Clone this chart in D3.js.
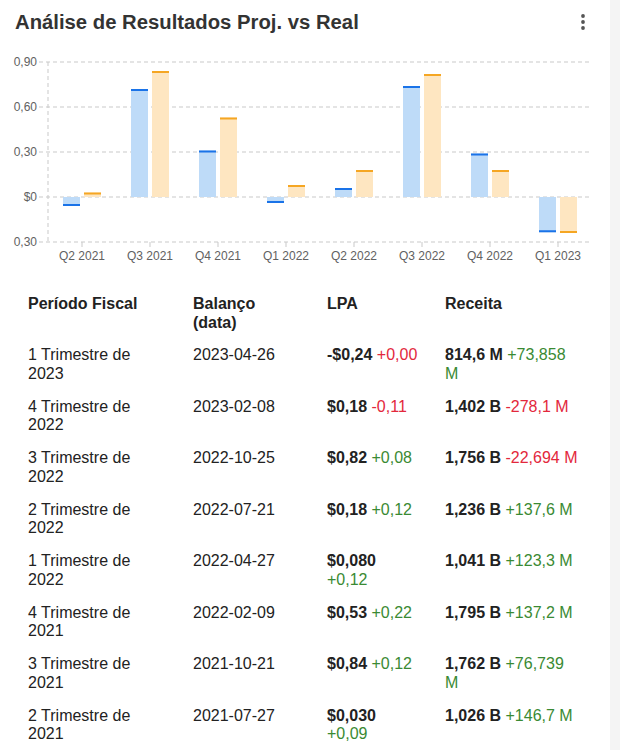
<!DOCTYPE html>
<html><head><meta charset="utf-8">
<script src="https://cdn.jsdelivr.net/npm/d3@7"></script>
<style>
body{margin:0;background:#fff;}
svg{display:block;font-family:"Liberation Sans",Arial,sans-serif;}
</style>
</head><body><svg id="c" width="620" height="750"></svg>
<script>
// ---- chart data ----
const quarters = ["Q2 2021","Q3 2021","Q4 2021","Q1 2022","Q2 2022","Q3 2022","Q4 2022","Q1 2023"];
const projected = [-0.06, 0.72, 0.31, -0.04, 0.06, 0.74, 0.29, -0.235];
const actual    = [0.03, 0.84, 0.53, 0.08, 0.18, 0.82, 0.18, -0.24];
const yTicks = [-0.3, 0, 0.3, 0.6, 0.9];
const yTickLabels = ["0,30", "$0", "0,30", "0,60", "0,90"];

// ---- table data ----
const headers = ["Período Fiscal", "Balanço (data)", "LPA", "Receita"];
const periods = ["1 Trimestre de 2023","4 Trimestre de 2022","3 Trimestre de 2022","2 Trimestre de 2022",
                 "1 Trimestre de 2022","4 Trimestre de 2021","3 Trimestre de 2021","2 Trimestre de 2021"];
const dates = ["2023-04-26","2023-02-08","2022-10-25","2022-07-21","2022-04-27","2022-02-09","2021-10-21","2021-07-27"];
const eps = ["-$0,24","$0,18","$0,82","$0,18","$0,080","$0,53","$0,84","$0,030"];
const epsSurprise = ["+0,00","-0,11","+0,08","+0,12","+0,12","+0,22","+0,12","+0,09"];
const epsBeat = [false,false,true,true,true,true,true,true];
const revenue = ["814,6 M","1,402 B","1,756 B","1,236 B","1,041 B","1,795 B","1,762 B","1,026 B"];
const revSurprise = ["+73,858 M","-278,1 M","-22,694 M","+137,6 M","+123,3 M","+137,2 M","+76,739 M","+146,7 M"];
const revBeat = [true,false,false,true,true,true,true,true];

const svg = d3.select("#c");
svg.append("rect").attr("x",0).attr("y",0).attr("width",620).attr("height",750).attr("fill","#fff");
svg.append("rect").attr("x",610).attr("y",0).attr("width",10).attr("height",750).attr("fill","#f4f4f4");

// title
svg.append("text").attr("x",15).attr("y",29).attr("font-size",20.3).attr("font-weight","bold")
  .attr("fill","#333").text("Análise de Resultados Proj. vs Real");
// kebab
svg.selectAll("circle.k").data([16,22,28]).join("circle").attr("class","k")
  .attr("cx",583).attr("cy",d=>d).attr("r",1.9).attr("fill","#555");

// scales
const x = d3.scaleBand().domain(quarters).range([48,592]);
const xs = d3.scaleBand().domain(["p","a"]).range([15,53]).paddingInner(4/21);
const y = d3.scaleLinear().domain([-0.3,0.9]).range([242,62]);
const grid = "#c9c9c9";

// gridlines
const gg = svg.append("g");
gg.selectAll("line").data(yTicks).join("line")
  .attr("x1",39).attr("x2",592).attr("y1",d=>y(d)).attr("y2",d=>y(d))
  .attr("stroke",grid).attr("stroke-width",1).attr("stroke-dasharray","4,3");
gg.append("line").attr("x1",48).attr("x2",48).attr("y1",y(0.9)).attr("y2",y(-0.3))
  .attr("stroke",grid).attr("stroke-dasharray","4,3");

// y labels
svg.selectAll("text.yl").data(yTicks).join("text").attr("class","yl")
  .attr("x",37).attr("y",d=>y(d)+4).attr("text-anchor","end").attr("font-size",12)
  .attr("fill","#616161").text((d,i)=>yTickLabels[i]);

// x axis
const xa = svg.append("g").attr("transform","translate(0,242)")
  .call(d3.axisBottom(x).tickSize(5).tickPadding(4).tickSizeOuter(0));
xa.select(".domain").remove();
xa.selectAll(".tick line").attr("stroke",grid);
xa.selectAll(".tick text").attr("font-size",12).attr("fill","#616161")
  .attr("font-family","'Liberation Sans',Arial,sans-serif");

// bars
const series = [
  {key:"p", vals:projected, fill:"#bedbf8", line:"#1a73e8"},
  {key:"a", vals:actual, fill:"#fee6c1", line:"#f5a623"}
];
series.forEach(s=>{
  const g = svg.append("g");
  quarters.forEach((q,i)=>{
    const v = s.vals[i];
    const x0 = x(q)+xs(s.key), w = xs.bandwidth();
    const yTop = Math.min(y(v),y(0)), h = Math.abs(y(v)-y(0));
    g.append("rect").attr("x",x0).attr("y",yTop).attr("width",w).attr("height",h).attr("fill",s.fill);
    g.append("rect").attr("x",x0).attr("y", v>=0 ? y(v) : y(v)-2).attr("width",w).attr("height",2).attr("fill",s.line);
  });
});

// ---- table ----
const colX = [28,193,327,445];
const colW = [130,100,92,135];
const FS = 16, LH = 18.5;
const dark = "#222", green = "#3a8a33", red = "#e3283c";

function measure(str, bold){
  const t = svg.append("text").attr("font-size",FS).attr("font-weight",bold?"bold":"normal").text(str);
  const w = t.node().getComputedTextLength(); t.remove(); return w;
}
function drawCell(segs, cx, by, maxW){
  const words = [];
  segs.forEach(s=> s.text.split(" ").forEach(w=>words.push({w, bold:s.bold, color:s.color})));
  const lines = [[]]; let cur = 0; const sp = measure("a a",false)-measure("aa",false);
  words.forEach(wd=>{
    const ww = measure(wd.w, wd.bold);
    const need = lines[lines.length-1].length ? cur + sp + ww : ww;
    if (lines[lines.length-1].length && need > maxW){ lines.push([wd]); cur = ww; }
    else { lines[lines.length-1].push(wd); cur = need; }
  });
  lines.forEach((ln,li)=>{
    const t = svg.append("text").attr("x",cx).attr("y",by+li*LH).attr("font-size",FS).attr("fill",dark);
    ln.forEach((wd,wi)=>{
      t.append("tspan").attr("font-weight",wd.bold?"bold":"normal").attr("fill",wd.color||dark)
        .text((wi?" ":"")+wd.w);
    });
  });
}
headers.forEach((h,i)=> drawCell([{text:h,bold:true}], colX[i], 309, colW[i]));
periods.forEach((p,i)=>{
  const by = 360 + i*51.55;
  drawCell([{text:p}], colX[0], by, colW[0]);
  drawCell([{text:dates[i]}], colX[1], by, colW[1]);
  drawCell([{text:eps[i],bold:true},{text:epsSurprise[i],color:epsBeat[i]?green:red}], colX[2], by, colW[2]);
  drawCell([{text:revenue[i],bold:true},{text:revSurprise[i],color:revBeat[i]?green:red}], colX[3], by, colW[3]);
});
</script>
</body></html>
